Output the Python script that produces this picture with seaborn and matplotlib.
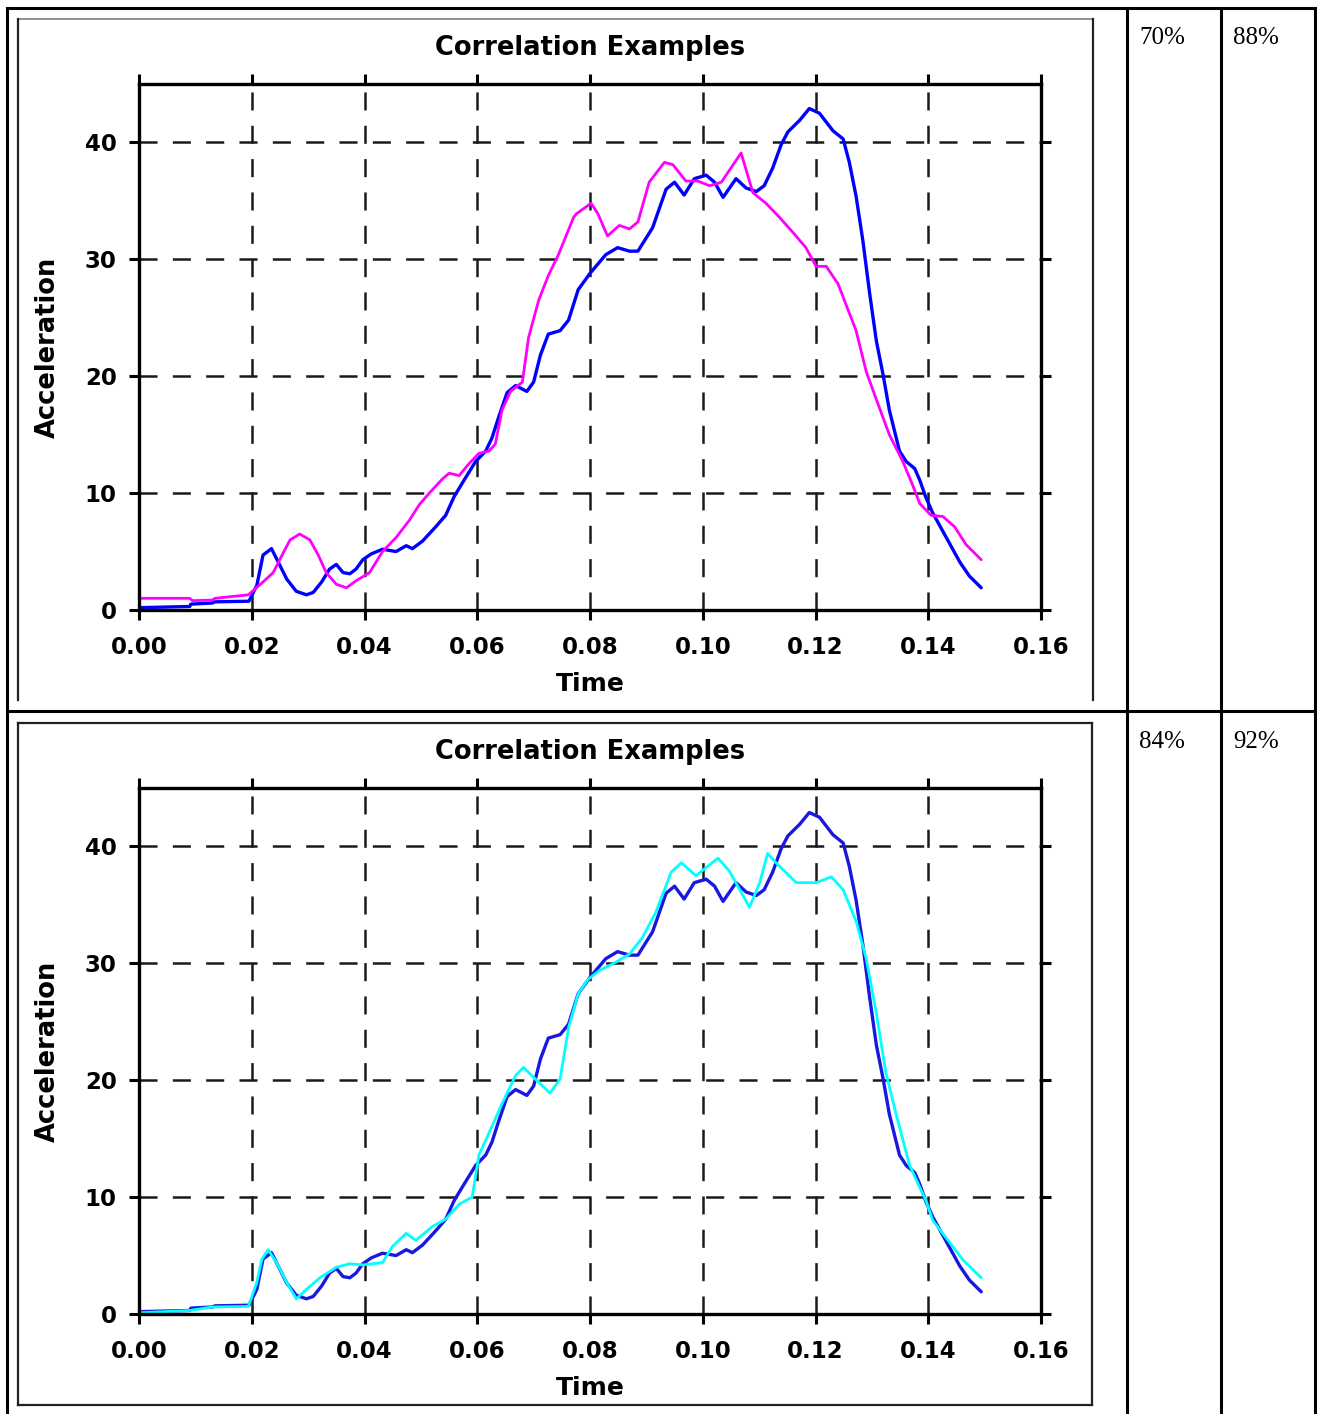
import numpy as np
import matplotlib
matplotlib.use('Agg')
import matplotlib.pyplot as plt
import seaborn as sns
from matplotlib.lines import Line2D

# reference curve (blue), same in both panels
blue_t = [0.0, 0.009, 0.0092, 0.013, 0.0135, 0.0195, 0.0209, 0.022, 0.0235, 0.0247, 0.0262, 0.0279,
          0.0297, 0.0309, 0.0324, 0.0338, 0.035, 0.0362, 0.0374, 0.0385, 0.0397, 0.0412, 0.0432,
          0.0456, 0.0474, 0.0485, 0.0503, 0.0526, 0.0544, 0.0559, 0.0574, 0.0597, 0.0615, 0.0626,
          0.0638, 0.0653, 0.0668, 0.0688, 0.07, 0.0712, 0.0726, 0.0747, 0.0762, 0.0779, 0.08,
          0.0828, 0.0849, 0.087, 0.0885, 0.0911, 0.0935, 0.095, 0.0967, 0.0985, 0.1006, 0.1021,
          0.1036, 0.1059, 0.1077, 0.1095, 0.1109, 0.1124, 0.1139, 0.1151, 0.1172, 0.1189, 0.1207,
          0.1231, 0.1249, 0.126, 0.1272, 0.1284, 0.1296, 0.1308, 0.132, 0.1331, 0.1349, 0.1361,
          0.1376, 0.1385, 0.1396, 0.1408, 0.1432, 0.1456, 0.1473, 0.1494]
blue_a = [0.2, 0.3, 0.5, 0.6, 0.7, 0.75, 2.1, 4.7, 5.25, 4.1, 2.65, 1.6,
          1.3, 1.5, 2.4, 3.5, 3.9, 3.2, 3.1, 3.5, 4.3, 4.8, 5.2,
          5.0, 5.5, 5.25, 5.9, 7.1, 8.1, 9.7, 10.9, 12.7, 13.6, 14.7,
          16.5, 18.6, 19.2, 18.7, 19.5, 21.8, 23.6, 23.9, 24.8, 27.4, 28.8,
          30.4, 31.0, 30.7, 30.7, 32.7, 36.0, 36.6, 35.5, 36.9, 37.2, 36.6,
          35.3, 36.9, 36.1, 35.8, 36.3, 37.8, 39.8, 40.9, 41.9, 42.9, 42.5,
          41.0, 40.3, 38.3, 35.4, 31.6, 27.1, 23.0, 20.1, 17.1, 13.6, 12.7,
          12.1, 11.1, 9.6, 8.3, 6.2, 4.1, 2.9, 1.9]

# 70% example (magenta)
magenta_t = [0.0, 0.009, 0.0095, 0.013, 0.0135, 0.0194, 0.022, 0.0238, 0.0256, 0.0268, 0.0285,
             0.0303, 0.0318, 0.0332, 0.035, 0.0368, 0.0385, 0.0409, 0.0432, 0.0456, 0.048,
             0.0497, 0.0515, 0.0538, 0.055, 0.0568, 0.0585, 0.0603, 0.0621, 0.0632, 0.0644,
             0.0659, 0.068, 0.0691, 0.0709, 0.0726, 0.0744, 0.0771, 0.0776, 0.0802, 0.0814,
             0.0831, 0.0852, 0.087, 0.0885, 0.0905, 0.0932, 0.0947, 0.097, 0.0991, 0.1012,
             0.1033, 0.1068, 0.1089, 0.1112, 0.1136, 0.116, 0.1183, 0.1201, 0.1219, 0.124,
             0.1272, 0.129, 0.1308, 0.1331, 0.1355, 0.1373, 0.1385, 0.1405, 0.1426, 0.1447,
             0.1467, 0.1494]
magenta_a = [1.0, 1.0, 0.8, 0.85, 1.0, 1.3, 2.4, 3.2, 4.9, 6.0, 6.5,
             6.0, 4.7, 3.2, 2.2, 1.9, 2.5, 3.2, 5.0, 6.2, 7.7,
             9.0, 10.0, 11.2, 11.7, 11.5, 12.5, 13.4, 13.6, 14.2, 17.1,
             18.7, 19.5, 23.3, 26.5, 28.6, 30.4, 33.6, 33.9, 34.8, 33.9,
             32.0, 32.9, 32.6, 33.2, 36.6, 38.3, 38.1, 36.7, 36.7, 36.3,
             36.6, 39.1, 35.7, 34.8, 33.6, 32.3, 31.0, 29.4, 29.4, 27.9,
             23.9, 20.4, 18.0, 15.0, 12.7, 10.6, 9.1, 8.1, 8.0, 7.1,
             5.6, 4.3]

# 84% example (cyan)
cyan_t = [0.0, 0.009, 0.013, 0.0194, 0.0209, 0.0218, 0.0229, 0.0244, 0.0262, 0.0279, 0.0297,
          0.0321, 0.035, 0.0374, 0.0397, 0.0432, 0.045, 0.0474, 0.0491, 0.0521, 0.0544, 0.0568,
          0.0591, 0.0603, 0.0621, 0.0644, 0.0668, 0.0682, 0.0703, 0.0729, 0.0747, 0.0762,
          0.0779, 0.0796, 0.0817, 0.0846, 0.087, 0.0893, 0.0917, 0.0944, 0.0962, 0.0988,
          0.1027, 0.1047, 0.1083, 0.1101, 0.1115, 0.113, 0.1166, 0.1201, 0.1228, 0.1249,
          0.1272, 0.129, 0.1308, 0.1325, 0.1343, 0.1367, 0.1396, 0.1408, 0.1432, 0.1462, 0.1494]
cyan_a = [0.1, 0.3, 0.6, 0.65, 2.7, 4.7, 5.5, 4.4, 2.7, 1.3, 2.1,
          3.1, 4.0, 4.3, 4.2, 4.4, 5.8, 6.9, 6.3, 7.5, 8.1, 9.4,
          10.0, 13.6, 15.5, 18.0, 20.4, 21.1, 20.1, 18.9, 20.1, 24.5,
          27.4, 28.6, 29.4, 30.1, 30.8, 32.2, 34.4, 37.8, 38.6, 37.5,
          39.0, 37.9, 34.8, 36.9, 39.4, 38.6, 36.9, 36.9, 37.4, 36.3,
          33.6, 30.4, 25.7, 20.6, 17.1, 12.7, 9.7, 8.0, 6.5, 4.6, 3.1]

title = 'Correlation Examples'
x_ticks = [0.0, 0.02, 0.04, 0.06, 0.08, 0.10, 0.12, 0.14, 0.16]
y_ticks = [0, 10, 20, 30, 40]
row_scores = [['70%', '88%'], ['84%', '92%']]

W, H = 1317, 1414

sns.set_style('ticks')
plt.rcParams['font.family'] = ['DejaVu Sans']
plt.rcParams['lines.scale_dashes'] = False
plt.rcParams['text.color'] = 'black'
plt.rcParams['axes.labelcolor'] = 'black'

fig = plt.figure(figsize=(W / 100, H / 100), dpi=100)
fig.patch.set_facecolor('white')


def fig_line(xs, ys, lw, color):
    fig.add_artist(Line2D([x / W for x in xs], [1 - y / H for y in ys], transform=fig.transFigure,
                          lw=lw, color=color, solid_capstyle='projecting'))


def make_panel(top_px, other_t, other_a, other_color, blue_color):
    ax = fig.add_axes([139 / W, 1 - (top_px + 526) / H, 902 / W, 526 / H])
    sns.lineplot(x=blue_t, y=blue_a, ax=ax, color=blue_color, lw=2.4, estimator=None)
    sns.lineplot(x=other_t, y=other_a, ax=ax, color=other_color, lw=2.0, estimator=None)
    ax.set_xlim(0, 0.16)
    ax.set_ylim(0, 45)
    ax.set_xticks(x_ticks)
    ax.set_xticklabels([f'{v:.2f}' for v in x_ticks])
    ax.set_yticks(y_ticks)
    ax.grid(True, color='#1a1a1a', lw=1.8, linestyle=(0, (13, 11)))
    ax.set_axisbelow(True)
    for s in ax.spines.values():
        s.set_visible(True)
        s.set_linewidth(2.4)
        s.set_color('black')
    ax.tick_params(direction='out', length=7, width=2.2, top=True, right=True,
                   labelsize=16.5, colors='black')
    ax.tick_params(axis='x', pad=12)
    ax.tick_params(axis='y', pad=9)
    for lab in ax.get_xticklabels() + ax.get_yticklabels():
        lab.set_fontweight('bold')
    ax.set_title(title, fontsize=18.5, fontweight='bold', pad=21, color='black')
    ax.set_xlabel('Time', fontsize=18, fontweight='bold', labelpad=9)
    ax.set_ylabel('Acceleration', fontsize=18.5, fontweight='bold', labelpad=17)
    return ax


make_panel(84, magenta_t, magenta_a, '#ff00ff', '#0000ff')
make_panel(788, cyan_t, cyan_a, '#00ffff', '#1818e0')

# chart image frames
fig_line([18, 1093], [19, 19], 1.3, '#888888')
fig_line([18, 18], [19, 700], 1.6, '#222222')
fig_line([1093, 1093], [19, 700], 1.6, '#222222')
fig_line([18, 1092], [723, 723], 1.6, '#222222')
fig_line([18, 18], [723, 1405], 1.6, '#222222')
fig_line([1092, 1092], [723, 1405], 1.6, '#222222')
fig_line([18, 1092], [1405, 1405], 1.6, '#222222')

# table grid
tl = 2.2
fig_line([7, 1315], [8, 8], tl, 'black')
fig_line([7, 1315], [711, 711], tl, 'black')
fig_line([7, 7], [8, 1414], tl, 'black')
fig_line([1127, 1127], [8, 1414], tl, 'black')
fig_line([1221, 1221], [8, 1414], tl, 'black')
fig_line([1315, 1315], [8, 1414], tl, 'black')

for row, base in zip(row_scores, [44, 748]):
    for txt, x in zip(row, [1139, 1233]):
        fig.text(x / W, 1 - base / H, txt, fontsize=18, family='Liberation Serif',
                 fontweight='normal', ha='left', va='baseline')

fig.savefig('out.png', dpi=100, facecolor='white')
